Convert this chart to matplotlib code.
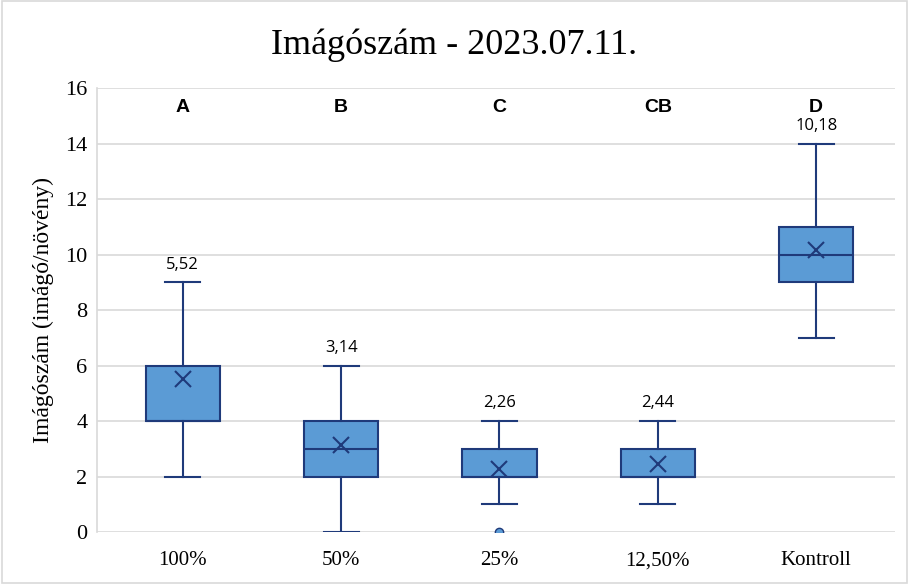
import matplotlib.pyplot as plt
from matplotlib.patches import Rectangle

# data
groups = ['100%', '50%', '25%', '12,50%', 'Kontroll']
letters = ['A', 'B', 'C', 'CB', 'D']
whislo = [2, 0, 1, 1, 7]
q1 = [4, 2, 2, 2, 9]
med = [4, 3, 2, 2, 10]
q3 = [6, 4, 3, 3, 11]
whishi = [9, 6, 4, 4, 14]
means = [5.52, 3.14, 2.26, 2.44, 10.18]
fliers = [[], [], [0], [], []]

box_fill = '#5B9BD5'
dark = '#1F3A7A'

stats = []
for i in range(len(groups)):
    stats.append({'label': groups[i], 'whislo': whislo[i], 'q1': q1[i], 'med': med[i],
                  'q3': q3[i], 'whishi': whishi[i], 'mean': means[i], 'fliers': fliers[i]})

fig = plt.figure(figsize=(9.09, 5.84), dpi=100)
ax = fig.add_axes([0.107, 0.089, 0.878, 0.760])

positions = list(range(1, len(groups) + 1))
ax.bxp(stats, positions=positions, widths=0.47, showmeans=True, patch_artist=True,
       boxprops=dict(facecolor=box_fill, edgecolor=dark, linewidth=1.5),
       medianprops=dict(color=dark, linewidth=1.5),
       whiskerprops=dict(color=dark, linewidth=1.5),
       capprops=dict(color=dark, linewidth=1.5),
       capwidths=0.22,
       meanprops=dict(marker='x', markeredgecolor=dark, markersize=11, markeredgewidth=1.5),
       flierprops=dict(marker='o', markerfacecolor=box_fill, markeredgecolor=dark, markersize=6),
       zorder=3)

for i, p in enumerate(positions):
    ax.text(p, whishi[i] + 0.35, f'{means[i]:.2f}'.replace('.', ','), ha='center', va='bottom',
            fontsize=12, family='Open Sans')
    ax.text(p, 15.3, letters[i], ha='center', va='center', fontsize=14, fontweight='bold',
            family='Liberation Sans')

ax.set_xlim(0.46, 5.5)
ax.set_ylim(0, 16)
ax.set_yticks(range(0, 17, 2))
ax.set_xticks(positions)
ax.set_xticklabels(groups)
ax.yaxis.grid(True, color='#d9d9d9', linewidth=1.2, zorder=0)
ax.set_axisbelow(True)
for s in ['top', 'right', 'bottom']:
    ax.spines[s].set_visible(False)
ax.spines['left'].set_color('#d9d9d9')
ax.spines['left'].set_linewidth(1.2)
ax.tick_params(axis='y', length=0, pad=7, labelsize=16)
ax.tick_params(axis='x', length=0, pad=14, labelsize=15)
for lbl in ax.get_xticklabels() + ax.get_yticklabels():
    lbl.set_family('Liberation Serif')
ax.set_ylabel('Imágószám (imágó/növény)', family='Liberation Serif', fontsize=17, labelpad=8)

fig.text(0.5, 0.922, 'Imágószám - 2023.07.11.', ha='center', va='center',
         family='Liberation Serif', fontsize=26)
fig.patches.append(Rectangle((0.002, 0.002), 0.996, 0.996, transform=fig.transFigure,
                             fill=False, edgecolor='#d9d9d9', linewidth=1.2))

fig.savefig('out.png', dpi=100)
